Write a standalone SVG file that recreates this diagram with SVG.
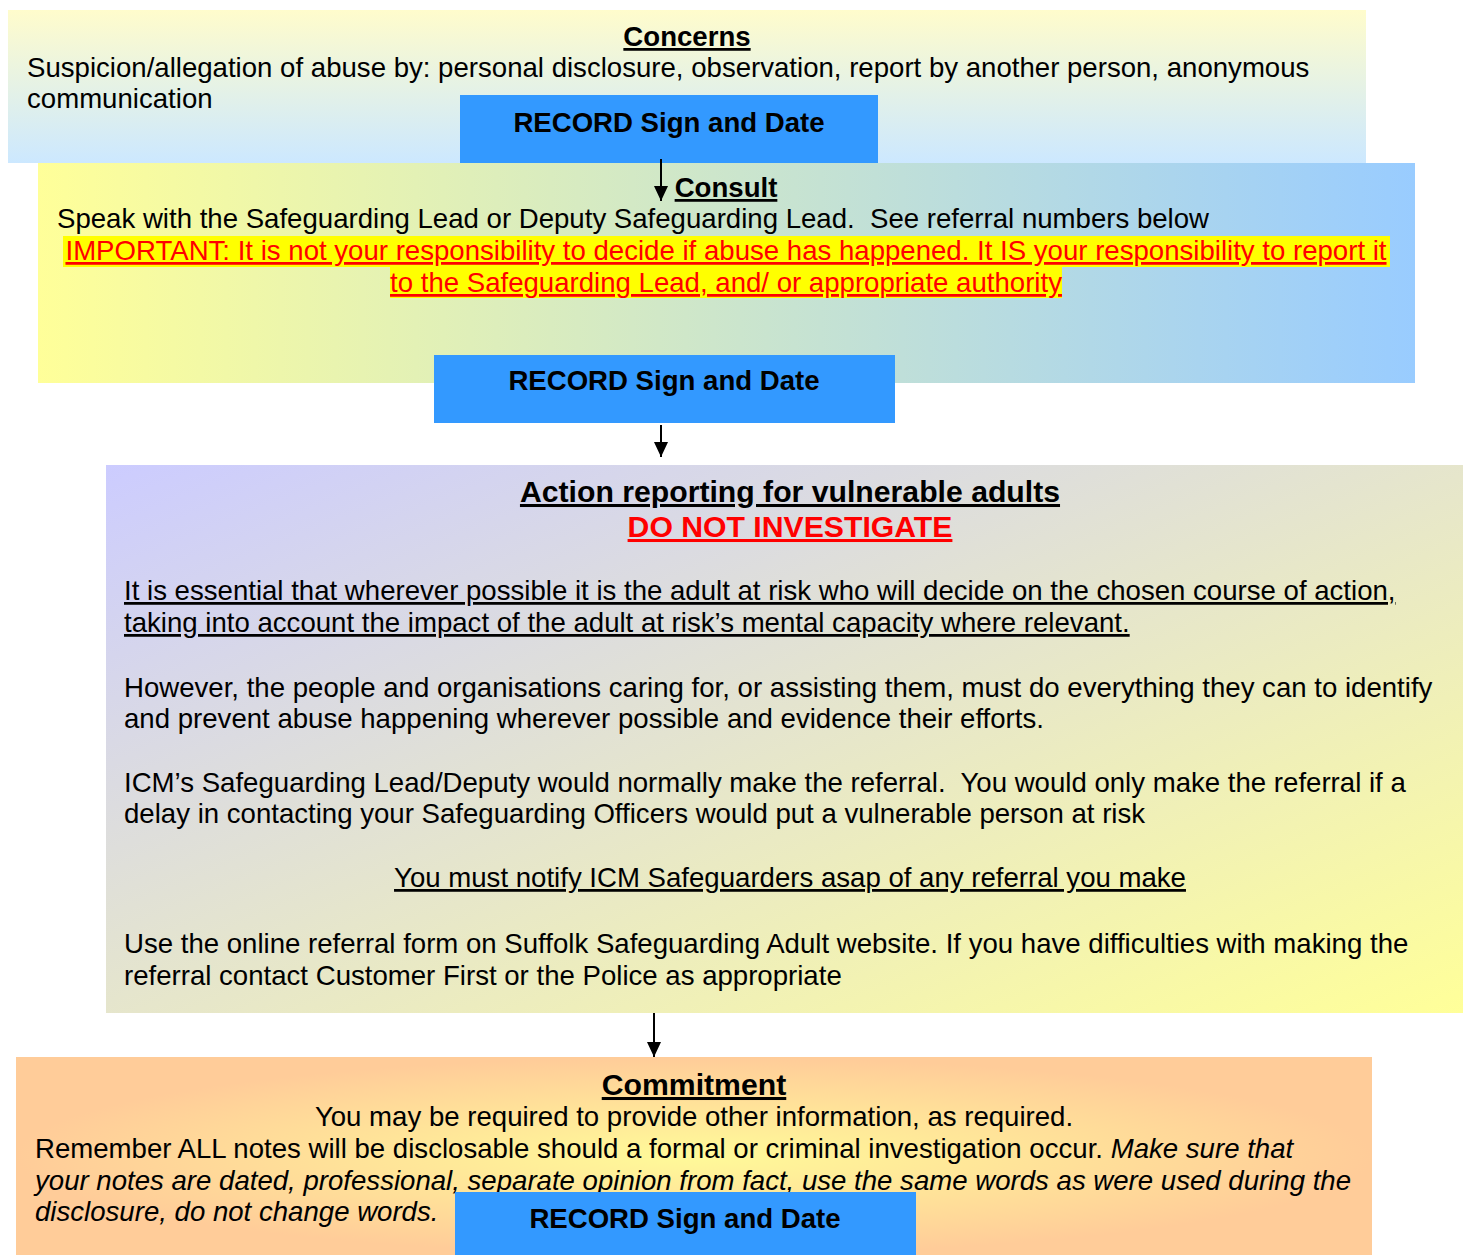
<svg xmlns="http://www.w3.org/2000/svg" width="1463" height="1255" viewBox="0 0 1463 1255">
<defs>
<linearGradient id="gConcerns" x1="0" y1="0" x2="0" y2="1">
<stop offset="0" stop-color="#FFFCCC"/>
<stop offset="1" stop-color="#CCE8FF"/>
</linearGradient>
<linearGradient id="gConsult" x1="0" y1="0" x2="1" y2="0">
<stop offset="0" stop-color="#FFFF99"/>
<stop offset="1" stop-color="#99CCFF"/>
</linearGradient>
<linearGradient id="gAction" x1="0" y1="0" x2="1" y2="1">
<stop offset="0" stop-color="#CCCCFF"/>
<stop offset="1" stop-color="#FFFF99"/>
</linearGradient>
<radialGradient id="gCommit" cx="0.5" cy="0.5" r="0.5">
<stop offset="0" stop-color="#FFFA99"/>
<stop offset="1" stop-color="#FFCC99"/>
</radialGradient>
<marker id="arr" markerWidth="16" markerHeight="14" refX="15" refY="7" orient="auto" markerUnits="userSpaceOnUse" viewBox="0 0 16 14">
<path d="M0,0 L15,7 L0,14 Z" fill="#000"/>
</marker>
</defs>
<style>
text{font-family:"Liberation Sans",Arial,sans-serif;font-size:27.6px;fill:#000;white-space:pre}
.b{font-weight:bold}
.u{text-decoration:underline}
.c{text-anchor:middle}
.red{fill:#FF0000}
.rec{fill:#3399FF}
.i{font-style:italic}
.h30{font-size:30.2px}
.conn{stroke:#000;stroke-width:2;fill:none}
</style>

<g id="concerns">
<rect x="8" y="10" width="1358" height="153" fill="url(#gConcerns)"/>
<text x="687" y="46" class="b u c">Concerns</text>
<text x="27" y="77">Suspicion/allegation of abuse by: personal disclosure, observation, report by another person, anonymous</text>
<text x="27" y="108">communication</text>
</g>

<g id="record1">
<rect x="460" y="95" width="418" height="68" class="rec"/>
<text x="669" y="132" class="b c">RECORD Sign and Date</text>
</g>

<g id="consult">
<rect x="38" y="163" width="1377" height="220" fill="url(#gConsult)"/>
<text x="726" y="197" class="b u c">Consult</text>
<text x="57" y="228">Speak with the Safeguarding Lead or Deputy Safeguarding Lead.  See referral numbers below</text>
<rect x="63" y="236" width="1327" height="31" fill="#FFFF00"/>
<rect x="390" y="267" width="672" height="31" fill="#FFFF00"/>
<text x="726" y="260" class="u c red">IMPORTANT: It is not your responsibility to decide if abuse has happened. It IS your responsibility to report it</text>
<text x="726" y="292" class="u c red">to the Safeguarding Lead, and/ or appropriate authority</text>
</g>

<g id="record2">
<rect x="434" y="355" width="461" height="68" class="rec"/>
<text x="664" y="390" class="b c">RECORD Sign and Date</text>
</g>

<g id="action">
<rect x="106" y="465" width="1357" height="548" fill="url(#gAction)"/>
<text x="790" y="502" class="b u c h30">Action reporting for vulnerable adults</text>
<text x="790" y="537" class="b u c red h30">DO NOT INVESTIGATE</text>
<text x="124" y="600" class="u">It is essential that wherever possible it is the adult at risk who will decide on the chosen course of action,</text>
<text x="124" y="632" class="u">taking into account the impact of the adult at risk’s mental capacity where relevant.</text>
<text x="124" y="697">However, the people and organisations caring for, or assisting them, must do everything they can to identify</text>
<text x="124" y="728">and prevent abuse happening wherever possible and evidence their efforts.</text>
<text x="124" y="792">ICM’s Safeguarding Lead/Deputy would normally make the referral.  You would only make the referral if a</text>
<text x="124" y="823">delay in contacting your Safeguarding Officers would put a vulnerable person at risk</text>
<text x="790" y="887" class="u c">You must notify ICM Safeguarders asap of any referral you make</text>
<text x="124" y="953">Use the online referral form on Suffolk Safeguarding Adult website. If you have difficulties with making the</text>
<text x="124" y="985">referral contact Customer First or the Police as appropriate</text>
</g>

<g id="commitment">
<rect x="16" y="1057" width="1356" height="198" fill="url(#gCommit)"/>
<text x="694" y="1095" class="b u c h30">Commitment</text>
<text x="694" y="1126" class="c">You may be required to provide other information, as required.</text>
<text x="35" y="1158">Remember ALL notes will be disclosable should a formal or criminal investigation occur. <tspan class="i">Make sure that</tspan></text>
<text x="35" y="1190" class="i">your notes are dated, professional, separate opinion from fact, use the same words as were used during the</text>
<text x="35" y="1221" class="i">disclosure, do not change words.</text>
</g>

<g id="record3">
<rect x="455" y="1192" width="461" height="63" class="rec"/>
<text x="685" y="1228" class="b c">RECORD Sign and Date</text>
</g>

<g id="connectors">
<line x1="661" y1="159" x2="661" y2="201" class="conn" marker-end="url(#arr)"/>
<line x1="661" y1="425" x2="661" y2="457" class="conn" marker-end="url(#arr)"/>
<line x1="654" y1="1013" x2="654" y2="1057" class="conn" marker-end="url(#arr)"/>
</g>
</svg>
